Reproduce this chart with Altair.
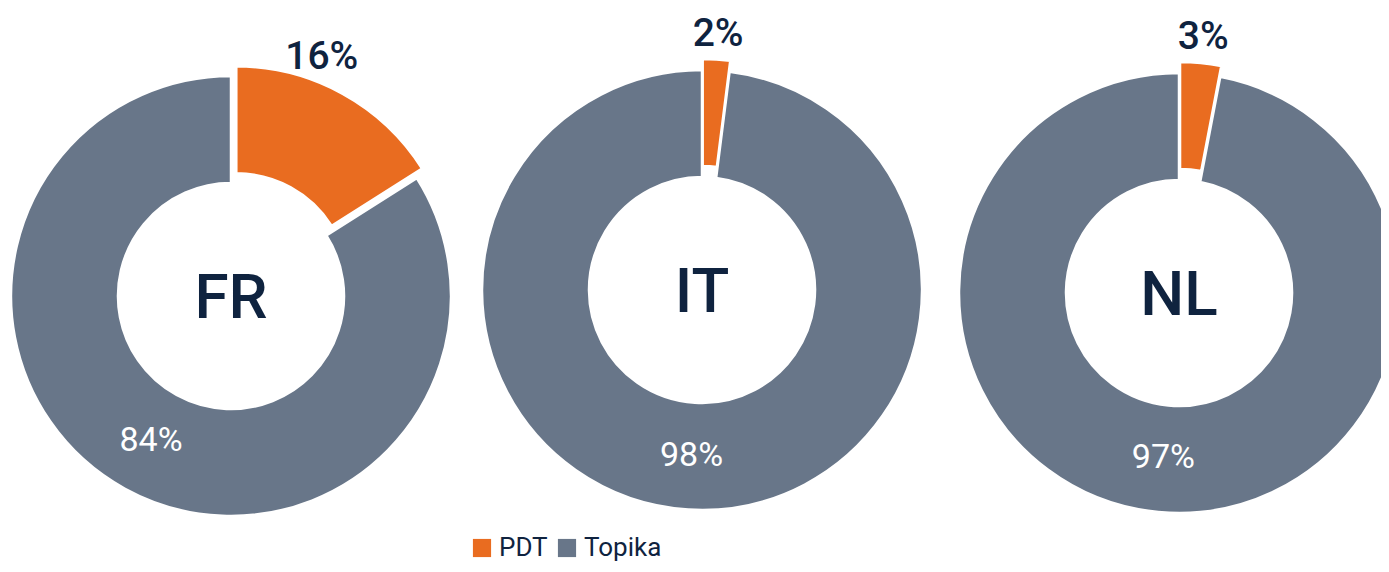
import math
import altair as alt
import pandas as pd

# ---- data ----
countries = ["FR", "IT", "NL"]
series_names = ["PDT", "Topika"]
pdt_share = [16, 2, 3]
topika_share = [84, 98, 97]
series_colors = ["#E96C20", "#687689"]

rows = []
for c, p, t in zip(countries, pdt_share, topika_share):
    rows.append({"country": c, "series": "PDT", "ord": 0, "value": p, "label": f"{p}%"})
    rows.append({"country": c, "series": "Topika", "ord": 1, "value": t, "label": f"{t}%"})
df = pd.DataFrame(rows)

# ---- layout / style ----
centers = {"FR": (223, 288), "IT": (694, 282), "NL": (1171, 285)}
R_OUT, R_IN, EXPLODE = 220, 113, 11
label_nudge = {"FR": (-33, -14), "IT": (0, 0), "NL": (0, 0)}
FONT = "Roboto, Inter, sans-serif"
NAVY = "#0F233F"

theta_scale = alt.Scale(domain=[0, 100], range=[0, 2 * math.pi])
color = alt.Color(
    "series:N",
    scale=alt.Scale(domain=series_names, range=series_colors),
    legend=alt.Legend(
        title=None, orient="none", legendX=461, legendY=527, direction="horizontal",
        symbolType="square", symbolSize=330, symbolStrokeWidth=0,
        labelFont=FONT, labelFontSize=26, labelColor=NAVY, columnPadding=6,
        labelOffset=4, padding=0,
    ),
)


def country_layers(c):
    cx, cy = centers[c]
    p = pdt_share[countries.index(c)]
    mid_rad = math.pi * p / 100.0
    ex, ey = EXPLODE * math.sin(mid_rad), -EXPLODE * math.cos(mid_rad)
    base = (
        alt.Chart(df)
        .transform_filter(alt.datum.country == c)
        .transform_stack(stack="value", groupby=["country"],
                         sort=[alt.SortField("ord", order="ascending")], as_=["v0", "v1"])
        .transform_calculate(mid="(datum.v0 + datum.v1) / 2")
    )
    grey = base.transform_filter(alt.datum.series == "Topika")
    orange = base.transform_filter(alt.datum.series == "PDT")
    arc_kw = dict(innerRadius=R_IN, outerRadius=R_OUT, stroke="white", strokeWidth=2.5)
    g_arc = grey.mark_arc(**arc_kw).encode(
        theta=alt.Theta("v0:Q", scale=theta_scale), theta2="v1:Q", color=color,
        x=alt.value(cx), y=alt.value(cy))
    o_arc = orange.mark_arc(**arc_kw).encode(
        theta=alt.Theta("v0:Q", scale=theta_scale), theta2="v1:Q", color=color,
        x=alt.value(cx + ex), y=alt.value(cy + ey))
    g_lab = grey.mark_text(radius=166, font=FONT, fontSize=34, color="white",
                           baseline="middle", align="center").encode(
        theta=alt.Theta("mid:Q", scale=theta_scale), text="label:N",
        x=alt.value(cx), y=alt.value(cy))
    ndx, ndy = label_nudge[c]
    o_lab = orange.mark_text(radius=257, font=FONT, fontSize=39, fontWeight=500, color=NAVY,
                             baseline="middle", align="center", dx=ndx, dy=ndy).encode(
        theta=alt.Theta("mid:Q", scale=theta_scale), text="label:N",
        x=alt.value(cx), y=alt.value(cy))
    ctr = orange.mark_text(font=FONT, fontSize=62, fontWeight=500, color=NAVY,
                           baseline="alphabetic", align="center", dy=22).encode(
        text="country:N", x=alt.value(cx), y=alt.value(cy))
    return [g_arc, o_arc, g_lab, o_lab, ctr]


layers = []
for c in countries:
    layers += country_layers(c)

chart = (
    alt.layer(*layers)
    .properties(width=1373, height=556, padding=0,
                autosize=alt.AutoSizeParams(type="none"))
    .configure_view(stroke=None)
)

chart.save("out.html", embed_options={"renderer": "svg", "actions": False})
